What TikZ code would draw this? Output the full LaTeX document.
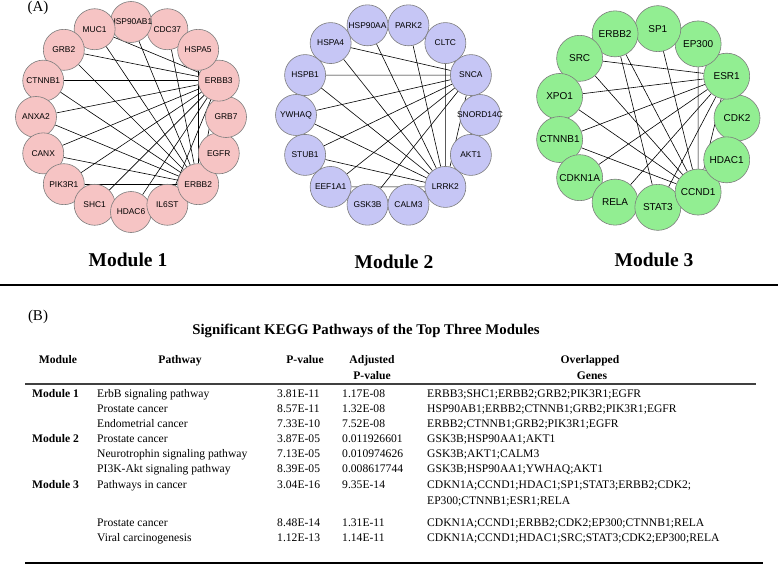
\documentclass[tikz,border=0pt]{standalone}
\usepackage{fontspec}
\setmainfont{Liberation Serif}
\setsansfont{Liberation Sans}
\usetikzlibrary{backgrounds}

\definecolor{pinknode}{RGB}{246,196,196}
\definecolor{bluenode}{RGB}{198,198,245}
\definecolor{greennode}{RGB}{146,238,146}
\definecolor{nodeline}{RGB}{125,125,125}

\tikzset{
  gene/.style={circle, draw=nodeline, line width=0.6pt, inner sep=0pt,
    font=\sffamily\fontsize{8.4}{9}\selectfont},
  modone/.style={gene, fill=pinknode, minimum size=41pt},
  modtwo/.style={gene, fill=bluenode, minimum size=41pt},
  modthree/.style={gene, fill=greennode, minimum size=46pt,
    font=\sffamily\fontsize{10}{11}\selectfont},
  link/.style={line width=0.6pt},
  modlabel/.style={font=\bfseries\fontsize{19.5}{22}\selectfont},
  cell/.style={anchor=base west, inner sep=0pt, font=\fontsize{11.6}{13}\selectfont},
  head/.style={anchor=base, inner sep=0pt, font=\bfseries\fontsize{11.6}{13}\selectfont},
  rule/.style={line width=1.3pt},
}

\begin{document}
\begin{tikzpicture}[x=1pt,y=1pt]
    \useasboundingbox (0,0) rectangle (778,-564);

    % Panel labels
    \node[font=\fontsize{15}{17}\selectfont] (pa) at (38,-8) {(A)};
    \node[font=\fontsize{15}{17}\selectfont] (pb) at (38,-317) {(B)};

    % Module 1 network (counterclockwise from CDC37)
    \begin{scope}[shift={(131,-117)}]
        \foreach \g [count=\i from 0] in {CDC37,HSP90AB1,MUC1,GRB2,CTNNB1,ANXA2,CANX,PIK3R1,
            SHC1,HDAC6,IL6ST,ERBB2,EGFR,GRB7,ERBB3,HSPA5}
            \node[modone] (a-\g) at ({67.5+22.5*\i}:95) {\makebox[0pt]{\g}};
    \end{scope}

    % Module 2 network (counterclockwise from PARK2)
    \begin{scope}[shift={(388,-115)}]
        \foreach \g [count=\i from 0] in {PARK2,HSP90AA,HSPA4,HSPB1,YWHAQ,STUB1,EEF1A1,
            GSK3B,CALM3,LRRK2,AKT1,SNORD14C,SNCA,CLTC}
            \node[modtwo] (b-\g) at ({77.143+25.714*\i}:92) {\makebox[0pt]{\g}};
    \end{scope}

    % Module 3 network
    \begin{scope}[shift={(647,-118)}]
        \foreach \g [count=\i from 0] in {CDK2,ESR1,EP300,SP1,ERBB2,SRC,XPO1,CTNNB1,
            CDKN1A,RELA,STAT3,CCND1,HDAC1}
            \node[modthree] (c-\g) at ({27.692*\i}:90) {\makebox[0pt]{\g}};
    \end{scope}

    % Edges go under the circles
    \begin{pgfonlayer}{background}
        \foreach \g in {MUC1,GRB2,CTNNB1,ANXA2,CANX,PIK3R1,SHC1,HDAC6,IL6ST,EGFR,ERBB2}
            \draw[link] (a-ERBB3) -- (a-\g);
        \foreach \g in {MUC1,HSP90AB1,CDC37,HSPA5,GRB2,CTNNB1,ANXA2,CANX,PIK3R1,HDAC6,GRB7}
            \draw[link] (a-ERBB2) -- (a-\g);
        \foreach \g in {PARK2,HSPA4,HSPB1,YWHAQ,STUB1,EEF1A1,GSK3B,AKT1,LRRK2}
            \draw[link] (b-SNCA) -- (b-\g);
        \foreach \g in {HSP90AA,PARK2,CLTC,HSPA4,HSPB1,YWHAQ,STUB1,EEF1A1,GSK3B}
            \draw[link] (b-LRRK2) -- (b-\g);
        \foreach \g in {SP1,SRC,XPO1,CTNNB1,CDKN1A,RELA,STAT3,CCND1}
            \draw[link] (c-ESR1) -- (c-\g);
        \foreach \g in {ERBB2,SP1,EP300,SRC,XPO1,CTNNB1,CDK2,HDAC1}
            \draw[link] (c-CCND1) -- (c-\g);
        \draw[link] (c-ERBB2) -- (c-STAT3);
        \draw[link] (c-SRC) -- (c-XPO1);
    \end{pgfonlayer}

    % Module names
    \node[modlabel] (lab1) at (128,-260) {Module 1};
    \node[modlabel] (lab2) at (394,-262) {Module 2};
    \node[modlabel] (lab3) at (654,-260) {Module 3};

    % Table rules
    \draw[rule] (0,-285) -- (778,-285);
    \draw[rule, draw=black!75] (25,-384) -- (756,-384);
    \draw[rule] (25,-563) -- (763,-563);

    % Table title and header
    \node[font=\bfseries\fontsize{14.8}{17}\selectfont] (title) at (366,-331)
        {Significant KEGG Pathways of the Top Three Modules};
    \node[head] (h-mod) at (58,-363) {Module};
    \node[head] (h-path) at (180,-363) {Pathway};
    \node[head] (h-p) at (305,-363) {P-value};
    \node[head] (h-adj) at (372,-363) {Adjusted};
    \node[head] (h-adj2) at (372,-379) {P-value};
    \node[head] (h-gene) at (590,-363) {Overlapped};
    \node[head] (h-gene2) at (592,-379) {Genes};

    % Module column
    \node[cell, font=\bfseries\fontsize{11.6}{13}\selectfont] (m1) at (32,-397) {Module 1};
    \node[cell, font=\bfseries\fontsize{11.6}{13}\selectfont] (m2) at (32,-442) {Module 2};
    \node[cell, font=\bfseries\fontsize{11.6}{13}\selectfont] (m3) at (32,-488) {Module 3};

    % Table rows
    \foreach \y/\p/\pv/\av/\gs [count=\i] in {
        397/ErbB signaling pathway/3.81E-11/1.17E-08/ERBB3;SHC1;ERBB2;GRB2;PIK3R1;EGFR,
        412/Prostate cancer/8.57E-11/1.32E-08/HSP90AB1;ERBB2;CTNNB1;GRB2;PIK3R1;EGFR,
        427/Endometrial cancer/7.33E-10/7.52E-08/ERBB2;CTNNB1;GRB2;PIK3R1;EGFR,
        442/Prostate cancer/3.87E-05/0.011926601/GSK3B;HSP90AA1;AKT1,
        457/Neurotrophin signaling pathway/7.13E-05/0.010974626/GSK3B;AKT1;CALM3,
        472/PI3K-Akt signaling pathway/8.39E-05/0.008617744/GSK3B;HSP90AA1;YWHAQ;AKT1,
        488/Pathways in cancer/3.04E-16/9.35E-14/CDKN1A;CCND1;HDAC1;SP1;STAT3;ERBB2;CDK2;,
        526/Prostate cancer/8.48E-14/1.31E-11/CDKN1A;CCND1;ERBB2;CDK2;EP300;CTNNB1;RELA,
        541/Viral carcinogenesis/1.12E-13/1.14E-11/CDKN1A;CCND1;HDAC1;SRC;STAT3;CDK2;EP300;RELA} {
        \node[cell] (path\i) at (97,-\y) {\p};
        \node[cell] (pv\i) at (277,-\y) {\pv};
        \node[cell] (adj\i) at (342,-\y) {\av};
        \node[cell] (genes\i) at (427,-\y) {\gs};
    }
    \node[cell] (genes7b) at (427,-504) {EP300;CTNNB1;ESR1;RELA};

\end{tikzpicture}
\end{document}
